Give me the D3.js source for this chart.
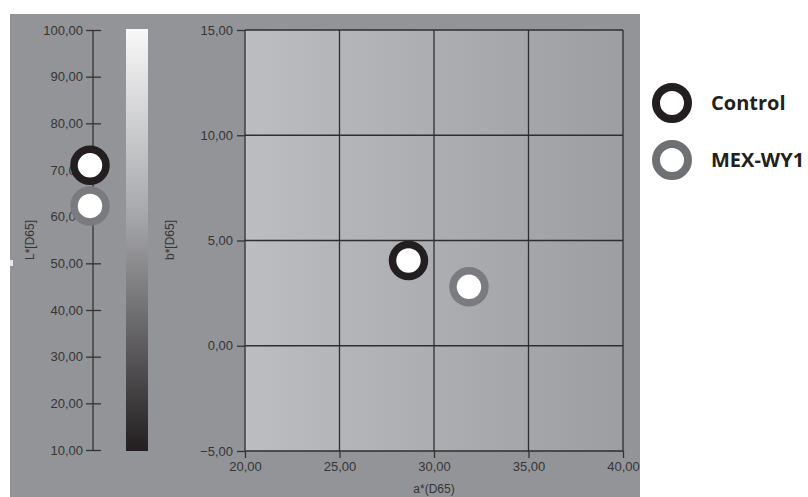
<!DOCTYPE html>
<html>
<head>
<meta charset="utf-8">
<script src="https://cdn.jsdelivr.net/npm/d3@7"></script>
<style>
  html, body { margin: 0; padding: 0; background: #fff; }
  svg { display: block; }
</style>
</head>
<body>
<div id="chart"></div>
<script>
// sample data
const samples = ["Control", "MEX-WY1"];
const lValues = [71.0, 62.3];
const aValues = [28.65, 31.85];
const bValues = [4.05, 2.8];
const sampleColors = ["#231f20", "#7a7b7e"];

// tick labels
const lTicks = [10, 20, 30, 40, 50, 60, 70, 80, 90, 100];
const aTicks = [20, 25, 30, 35, 40];
const bTicks = [-5, 0, 5, 10, 15];

const width = 808;
const height = 497;
const fmt = v => d3.format(".2f")(v).replace(".", ",");

const svg = d3.select("#chart")
    .append("svg")
    .attr("width", width)
    .attr("height", height)
    .style("font-family", "'Liberation Sans', Arial, sans-serif");

const defs = svg.append("defs");

const barGrad = defs.append("linearGradient")
    .attr("id", "barGrad")
    .attr("x1", 0).attr("y1", 0).attr("x2", 0).attr("y2", 1);
barGrad.append("stop").attr("offset", "0%").attr("stop-color", "#f8f8f8");
barGrad.append("stop").attr("offset", "45%").attr("stop-color", "#a4a5a9");
barGrad.append("stop").attr("offset", "100%").attr("stop-color", "#231f20");

const plotGrad = defs.append("linearGradient")
    .attr("id", "plotGrad")
    .attr("x1", 0).attr("y1", 0).attr("x2", 1).attr("y2", 0);
plotGrad.append("stop").attr("offset", "0%").attr("stop-color", "#bcbdc1");
plotGrad.append("stop").attr("offset", "100%").attr("stop-color", "#9d9ea2");

// outer gray panel
svg.append("rect")
    .attr("x", 10).attr("y", 14)
    .attr("width", 630).attr("height", height - 14)
    .attr("fill", "#939498");

svg.append("rect")
    .attr("x", 10).attr("y", 260)
    .attr("width", 3).attr("height", 6)
    .attr("fill", "#e8e8e8");

// ---- L* panel ----
const lScale = d3.scaleLinear().domain([10, 100]).range([450, 30]);

svg.append("line")
    .attr("x1", 93).attr("x2", 93)
    .attr("y1", lScale(10)).attr("y2", lScale(100))
    .attr("stroke", "#333").attr("stroke-width", 1.3);

const lAxis = svg.append("g")
    .attr("transform", "translate(101,0)")
    .call(d3.axisLeft(lScale).tickValues(lTicks).tickFormat(fmt).tickSize(15).tickPadding(3));
lAxis.select(".domain").remove();
lAxis.selectAll(".tick line").attr("stroke", "#333").attr("stroke-width", 1.3);
lAxis.selectAll(".tick text")
    .attr("fill", "#353535")
    .style("font-size", "13px");

svg.append("rect")
    .attr("x", 126).attr("y", 29)
    .attr("width", 22).attr("height", 422)
    .attr("fill", "url(#barGrad)");

svg.append("text")
    .attr("transform", "translate(34,240) rotate(-90)")
    .attr("text-anchor", "middle")
    .attr("fill", "#353535")
    .style("font-size", "12px")
    .text("L*[D65]");

svg.append("text")
    .attr("transform", "translate(174,240) rotate(-90)")
    .attr("text-anchor", "middle")
    .attr("fill", "#353535")
    .style("font-size", "12px")
    .text("b*[D65]");

svg.append("g")
    .selectAll("circle")
    .data(samples)
    .join("circle")
    .attr("cx", 90)
    .attr("cy", (d, i) => lScale(lValues[i]))
    .attr("r", 16)
    .attr("fill", "#fff")
    .attr("stroke", (d, i) => sampleColors[i])
    .attr("stroke-width", 7.5);

// ---- a*/b* plot ----
const aScale = d3.scaleLinear().domain([20, 40]).range([245, 623]);
const bScale = d3.scaleLinear().domain([-5, 15]).range([451, 30]);

svg.append("rect")
    .attr("x", aScale(20)).attr("y", bScale(15))
    .attr("width", aScale(40) - aScale(20))
    .attr("height", bScale(-5) - bScale(15))
    .attr("fill", "url(#plotGrad)");

const grid = svg.append("g")
    .attr("stroke", "#2e2e2e")
    .attr("stroke-width", 1.3);
grid.selectAll(".v")
    .data(aTicks)
    .join("line")
    .attr("x1", d => aScale(d)).attr("x2", d => aScale(d))
    .attr("y1", bScale(-5)).attr("y2", bScale(15));
grid.selectAll(".h")
    .data(bTicks)
    .join("line")
    .attr("x1", aScale(20)).attr("x2", aScale(40))
    .attr("y1", d => bScale(d)).attr("y2", d => bScale(d));

const yAxis = svg.append("g")
    .attr("transform", `translate(${aScale(20)},0)`)
    .call(d3.axisLeft(bScale).tickValues(bTicks).tickFormat(fmt).tickSize(8).tickPadding(4));
yAxis.select(".domain").remove();
yAxis.selectAll(".tick line").attr("stroke", "#333").attr("stroke-width", 1.3);
yAxis.selectAll(".tick text")
    .attr("fill", "#353535")
    .style("font-size", "13px");

const xAxis = svg.append("g")
    .attr("transform", `translate(0,${bScale(-5)})`)
    .call(d3.axisBottom(aScale).tickValues(aTicks).tickFormat(fmt).tickSize(7).tickPadding(4));
xAxis.select(".domain").remove();
xAxis.selectAll(".tick line").attr("stroke", "#333").attr("stroke-width", 1.3);
xAxis.selectAll(".tick text")
    .attr("fill", "#353535")
    .style("font-size", "13px");

svg.append("text")
    .attr("x", aScale(30)).attr("y", 493)
    .attr("text-anchor", "middle")
    .attr("fill", "#353535")
    .style("font-size", "12px")
    .text("a*(D65)");

svg.append("g")
    .selectAll("circle")
    .data(samples)
    .join("circle")
    .attr("cx", (d, i) => aScale(aValues[i]))
    .attr("cy", (d, i) => bScale(bValues[i]))
    .attr("r", 16)
    .attr("fill", "#fff")
    .attr("stroke", (d, i) => sampleColors[i])
    .attr("stroke-width", 7.5);

// ---- legend ----
const legend = svg.append("g")
    .selectAll("g")
    .data(samples)
    .join("g")
    .attr("transform", (d, i) => `translate(672,${103 + i * 57})`);

legend.append("circle")
    .attr("r", 16)
    .attr("fill", "#fff")
    .attr("stroke", (d, i) => i === 0 ? sampleColors[i] : "#6f7073")
    .attr("stroke-width", 8);

legend.append("text")
    .attr("x", 39)
    .attr("dy", "0.35em")
    .attr("fill", "#231f20")
    .style("font-family", "'Open Sans', 'Noto Sans', sans-serif")
    .style("font-weight", "bold")
    .style("font-size", "20px")
    .text(d => d);
</script>
</body>
</html>
